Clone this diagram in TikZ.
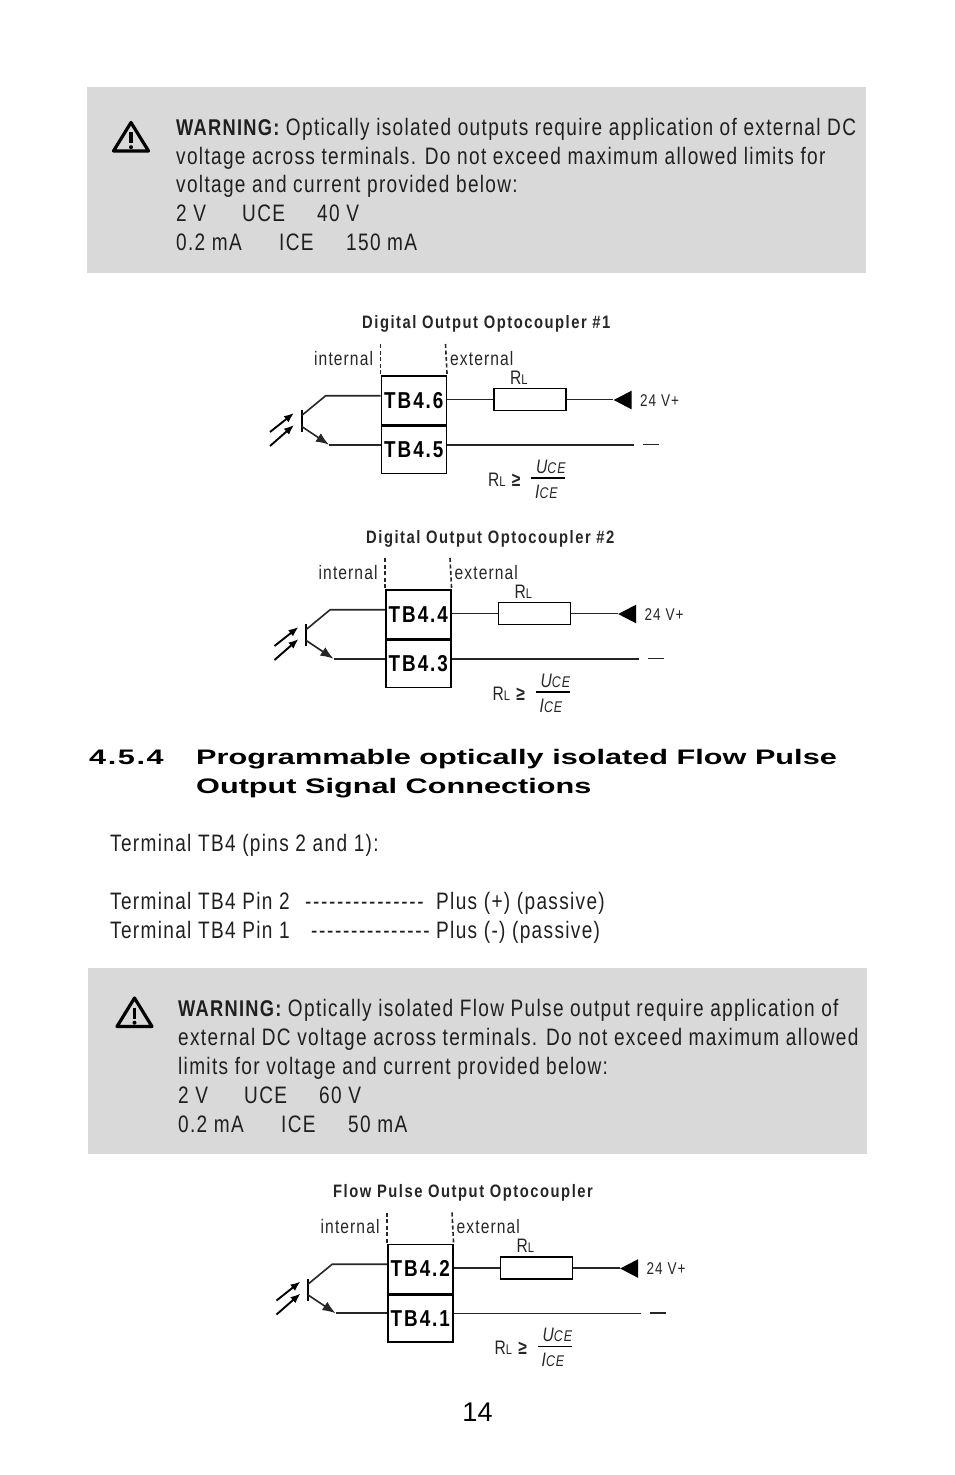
\documentclass[tikz,border=0pt]{standalone}
\usepackage{fontspec}
\usepackage{tikz}
\setmainfont{Liberation Sans}
\newfontfamily\narrowfont[FakeStretch=0.8,LetterSpace=5.6]{Liberation Sans}
\newfontfamily\headfont[FakeStretch=1.46]{Liberation Sans}
\newfontfamily\titlefont[FakeStretch=0.82,LetterSpace=8.5]{Liberation Sans}
\newcommand{\warnword}{{\bfseries\fontsize{22.8}{22.8}\selectfont WARNING:}}
\tikzset{
	body/.style={anchor=base west,inner sep=0pt,yshift=1pt,font=\narrowfont\fontsize{23.8}{23.8}\selectfont,text=black!88},
	headline/.style={anchor=base west,inner sep=0pt,yshift=1pt,font=\headfont\bfseries\fontsize{21}{21}\selectfont},
	title/.style={anchor=base west,inner sep=0pt,yshift=1pt,font=\titlefont\bfseries\fontsize{18}{18}\selectfont,text=black!85},
	small/.style={anchor=base west,inner sep=0pt,font=\narrowfont\fontsize{19.5}{19.5}\selectfont,text=black!85},
	tbbox/.style={draw,line width=1.6pt,minimum width=65pt,inner sep=0pt,font=\titlefont\bfseries\fontsize{23}{23}\selectfont},
	wire/.style={line width=1.6pt,black!85},
	warnback/.style={fill=black!15,draw=none,inner sep=0pt,minimum width=779pt,minimum height=186pt,anchor=north west},
}
% warning triangle
\newcommand{\warnsign}[2]{
	\begin{scope}[shift={(#1,#2)}]
		\draw[line width=3.2pt,line join=round] (131,122.5) -- (113.5,151) -- (148.5,151) -- cycle;
		\draw[line width=3.6pt] (131,132) -- (131,143);
		\fill (131,147.2) circle(2);
	\end{scope}
}
% one optocoupler with its terminals
\newcommand{\optoblock}[4]{
	\begin{scope}[shift={(#1,#2)},name prefix=#1-]
		\node[tbbox,minimum height=49pt,anchor=north west] (upper) at (380.5,375) {#3};
		\node[tbbox,minimum height=47pt,anchor=north] (lower) at (upper.south) {#4};
		\coordinate (dashleft) at (380.5,344);
		\coordinate (dashright) at (445.5,344);
		\draw[wire,dash pattern=on 4pt off 2.5pt] (dashleft) -- (upper.north west);
		\draw[wire,dash pattern=on 4pt off 2.5pt] (dashright) -- (upper.north east);
		\node[small] (intlabel) at (314,365) {internal};
		\node[small] (extlabel) at (450,365) {external};
		% transistor
		\coordinate (bartop) at (301.7,410);
		\coordinate (barbot) at (301.7,432);
		\coordinate (collbase) at (301.7,415.5);
		\coordinate (emitbase) at (301.7,426.5);
		\coordinate (coll) at (325.7,395.7);
		\coordinate (emit) at (329,444.7);
		\draw[line width=1.8pt] (bartop) -- (barbot);
		\draw[wire] (collbase) -- (coll) -- (coll -| upper.west);
		\draw[wire] (emit) -- (emit -| lower.west);
		\draw[wire,-{Latex[length=13pt,width=10pt]}] (emitbase) -- (emit);
		\foreach \y/\z in {432/413,446/425}
			\draw[line width=1.9pt,-{Latex[length=10pt,width=8pt]}] (270,\y) -- (294,\z);
		% load side
		\node[draw,line width=1.6pt,minimum width=72pt,minimum height=22pt,inner sep=0pt] (load) at (530,399.5) {};
		\node[small,anchor=base west] (loadlabel) at (510,384) {R{\fontsize{14}{14}\selectfont L}};
		\node[fill,isosceles triangle,isosceles triangle apex angle=55,shape border rotate=180,inner sep=0pt,minimum height=18pt,minimum width=18pt] (supply) at (626,400) {};
		\node[anchor=base west,inner sep=0pt,font=\narrowfont\fontsize{17}{17}\selectfont,text=black!85] (supplylabel) at (640,406) {24 V+};
		\coordinate (minusend) at (634,445);
		\coordinate (minusa) at (643,444.5);
		\coordinate (minusb) at (659,444.5);
		\draw[wire] (upper.east |- load) -- (load.west);
		\draw[wire] (load.east) -- (supply.west |- load);
		\draw[wire] (lower.east |- minusend) -- (minusend);
		\draw[wire] (minusa) -- (minusb);
		% sizing formula
		\node[small] (rllabel) at (488,486) {R{\fontsize{14}{14}\selectfont L} \textbf{≥}};
		\coordinate (fracleft) at (531,478);
		\coordinate (fracright) at (565,478);
		\draw[line width=1.2pt] (fracleft) -- (fracright);
		\node[small] (uce) at (536,473) {\itshape U{\fontsize{15.5}{15.5}\selectfont CE}};
		\node[small] (ice) at (535,498) {\itshape I{\fontsize{15.5}{15.5}\selectfont CE}};
	\end{scope}
}
\usetikzlibrary{arrows.meta,shapes.geometric}
\begin{document}
\begin{tikzpicture}[x=1pt,y=-1pt]
	\useasboundingbox (0,0) rectangle (954,1475);
	% first warning
	\node[warnback] (warnone) at (87,87) {};
	\warnsign{0}{0}
	\node[body] (wa) at (176,136) {\warnword{} Optically isolated outputs require application of external DC};
	\node[body] (wb) at (176,165) {voltage across terminals. Do not exceed maximum allowed limits for};
	\node[body] (wc) at (176,193) {voltage and current provided below:};
	\node[body] (wd) at (176,222) {2 V};
	\node[body] (we) at (242,222) {UCE};
	\node[body] (wf) at (317,222) {40 V};
	\node[body] (wg) at (176,251) {0.2 mA};
	\node[body] (wh) at (279,251) {ICE};
	\node[body] (wi) at (346,251) {150 mA};
	% first two diagrams
	\node[title] (titleone) at (362,329) {Digital Output Optocoupler \#1};
	\optoblock{0}{0}{TB4.6}{TB4.5}
	\node[title] (titletwo) at (366,544) {Digital Output Optocoupler \#2};
	\optoblock{4.5}{214}{TB4.4}{TB4.3}
	% section heading
	\node[headline] (secnum) at (89,765) {\addfontfeature{LetterSpace=7.5}4.5.4};
	\node[headline] (secone) at (196,765) {Programmable optically isolated Flow Pulse};
	\node[headline] (sectwo) at (196,794) {Output Signal Connections};
	% pin list
	\node[body] (pa) at (110,852) {Terminal TB4 (pins 2 and 1):};
	\node[body] (pb) at (110,910) {Terminal TB4 Pin 2};
	\node[body] (pc) at (305,910) {\addfontfeature{LetterSpace=7}---------------};
	\node[body] (pd) at (436,910) {Plus (+) (passive)};
	\node[body] (pe) at (110,939) {Terminal TB4 Pin 1};
	\node[body] (pf) at (311,939) {\addfontfeature{LetterSpace=7}---------------};
	\node[body] (pg) at (436,939) {Plus (-) (passive)};
	% second warning
	\node[warnback] (warntwo) at (88,968) {};
	\warnsign{3.5}{875.5}
	\node[body] (xa) at (178,1017) {\warnword{} Optically isolated Flow Pulse output require application of};
	\node[body] (xb) at (178,1046) {external DC voltage across terminals. Do not exceed maximum allowed};
	\node[body] (xc) at (178,1075) {limits for voltage and current provided below:};
	\node[body] (xd) at (178,1104) {2 V};
	\node[body] (xe) at (244,1104) {UCE};
	\node[body] (xf) at (319,1104) {60 V};
	\node[body] (xg) at (178,1133) {0.2 mA};
	\node[body] (xh) at (281,1133) {ICE};
	\node[body] (xi) at (348,1133) {50 mA};
	% third diagram
	\node[title] (titlethree) at (333,1198) {Flow Pulse Output Optocoupler};
	\optoblock{6.5}{868.5}{TB4.2}{TB4.1}
	% page number
	\node[anchor=base,inner sep=0pt,font=\fontsize{27}{27}\selectfont] (pagenum) at (477.5,1421) {14};
\end{tikzpicture}
\end{document}
